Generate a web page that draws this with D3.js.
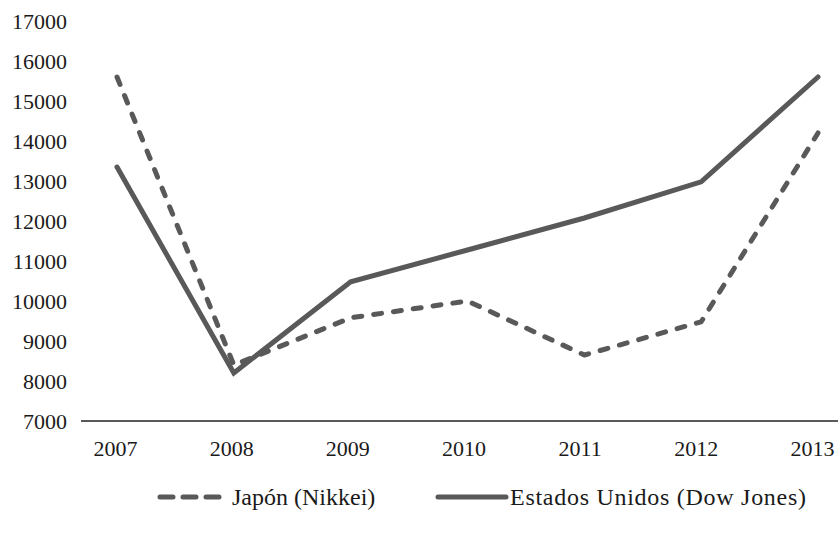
<!DOCTYPE html>
<html>
<head>
<meta charset="utf-8">
<script src="https://cdn.jsdelivr.net/npm/d3@7"></script>
<style>
  html, body { margin: 0; padding: 0; background: #fff; }
  svg text { font-family: "Liberation Serif", "DejaVu Serif", serif; fill: #1a1a1a; }
</style>
</head>
<body>
<svg id="chart" width="838" height="536"></svg>
<script>
const years = ["2007", "2008", "2009", "2010", "2011", "2012", "2013"];
const nikkei = [15600, 8400, 9580, 10000, 8650, 9480, 14200];
const dowJones = [13350, 8200, 10480, 11275, 12075, 12980, 15600];
const yTicks = [7000, 8000, 9000, 10000, 11000, 12000, 13000, 14000, 15000, 16000, 17000];
const seriesNames = ["Japón (Nikkei)", "Estados Unidos (Dow Jones)"];

const svg = d3.select("#chart");
const color = "#595959";
const fontSize = 22;
const ff = '"Liberation Serif", "DejaVu Serif", serif';

// scale for plotted points and scale for category labels
const x = d3.scalePoint().domain(years).range([117, 818]);
const xLabel = d3.scalePoint().domain(years).range([115, 812]);
const y = d3.scaleLinear().domain([7000, 17000]).range([421, 21]);

// y tick labels (no axis line)
const yAxis = d3.axisLeft(y).tickValues(yTicks).tickSize(0).tickPadding(0).tickFormat(d3.format("d"));
const gy = svg.append("g").attr("transform", "translate(67,0)").call(yAxis);
gy.select(".domain").remove();
gy.selectAll("text").style("font-size", fontSize + "px").attr("dy", "0.35em").attr("fill", "#1a1a1a")
  .style("font-family", ff);

// x axis
const xAxis = d3.axisBottom(xLabel).tickSize(0).tickPadding(19);
const gx = svg.append("g").attr("transform", "translate(0,421)").call(xAxis);
gx.select(".domain").remove();
gx.append("line").attr("x1", 81).attr("x2", 838).attr("y1", 0).attr("y2", 0)
  .attr("stroke", "#222").attr("stroke-width", 1.5);
gx.selectAll("text").style("font-size", fontSize + "px").attr("fill", "#1a1a1a")
  .style("font-family", ff);

const line = d3.line().x((d, i) => x(years[i])).y(d => y(d));

svg.append("path").datum(dowJones)
  .attr("d", line).attr("fill", "none").attr("stroke", color)
  .attr("stroke-width", 5).attr("stroke-linecap", "round").attr("stroke-linejoin", "miter");

svg.append("path").datum(nikkei)
  .attr("d", line).attr("fill", "none").attr("stroke", color)
  .attr("stroke-width", 5).attr("stroke-linecap", "round").attr("stroke-linejoin", "round")
  .attr("stroke-dasharray", "8,12");

// legend
const legend = svg.append("g");
const ly = 497;
legend.append("line").attr("x1", 160).attr("x2", 219).attr("y1", ly).attr("y2", ly)
  .attr("stroke", color).attr("stroke-width", 5).attr("stroke-linecap", "round")
  .attr("stroke-dasharray", "13,10");
legend.append("text").attr("x", 232).attr("y", ly).attr("dy", "0.35em")
  .style("font-size", "24px")
  .text(seriesNames[0]);
legend.append("line").attr("x1", 438).attr("x2", 506).attr("y1", ly).attr("y2", ly)
  .attr("stroke", color).attr("stroke-width", 5).attr("stroke-linecap", "round");
legend.append("text").attr("x", 510).attr("y", ly).attr("dy", "0.35em")
  .style("font-size", "24px").attr("textLength", 296).attr("lengthAdjust", "spacing")
  .text(seriesNames[1]);
</script>
</body>
</html>
